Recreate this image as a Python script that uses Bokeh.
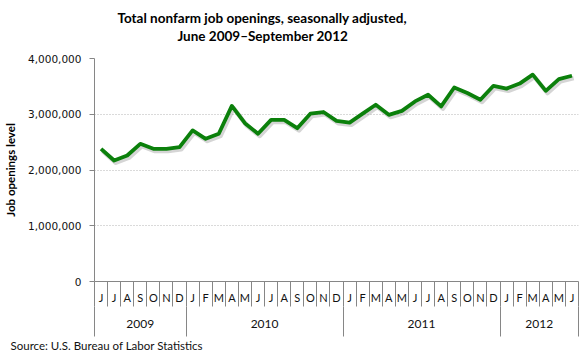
from bokeh.plotting import figure
from bokeh.models import (Range1d, LinearAxis, FixedTicker, NumeralTickFormatter,
                          Title, CustomJSTickFormatter)
from bokeh.embed import file_html
from bokeh.resources import INLINE

# ---- data ----
years = ["2009", "2010", "2011", "2012"]
months_2009 = ["J", "J", "A", "S", "O", "N", "D"]
months_2010 = ["J", "F", "M", "A", "M", "J", "J", "A", "S", "O", "N", "D"]
months_2011 = ["J", "F", "M", "A", "M", "J", "J", "A", "S", "O", "N", "D"]
months_2012 = ["J", "F", "M", "A", "M", "J"]

openings_2009 = [2380000, 2170000, 2260000, 2470000, 2380000, 2380000, 2410000]
openings_2010 = [2710000, 2560000, 2650000, 3150000, 2840000, 2650000,
                 2900000, 2900000, 2750000, 3010000, 3040000, 2880000]
openings_2011 = [2850000, 3010000, 3170000, 2990000, 3060000, 3230000,
                 3350000, 3140000, 3480000, 3380000, 3260000, 3510000]
openings_2012 = [3460000, 3550000, 3710000, 3420000, 3630000, 3690000]

y_ticks = [0, 1000000, 2000000, 3000000, 4000000]

# ---- derived ----
month_groups = [months_2009, months_2010, months_2011, months_2012]
month_labels = [m for g in month_groups for m in g]
values = openings_2009 + openings_2010 + openings_2011 + openings_2012
n = len(month_labels)
xs = [i + 0.5 for i in range(n)]
bounds = [0]
for g in month_groups:
    bounds.append(bounds[-1] + len(g))
year_centers = [(bounds[k] + bounds[k + 1]) / 2 for k in range(len(years))]

AXIS_GRAY = "#868686"
BODY_FONT = "Lato"

p = figure(width=580, height=360, output_backend="svg", toolbar_location=None,
           x_range=Range1d(0, n), y_range=Range1d(0, 4000000),
           min_border_left=94, min_border_right=2, min_border_top=58,
           min_border_bottom=79)
p.outline_line_color = None
p.background_fill_color = "white"
p.border_fill_color = "white"
p.xgrid.visible = False
p.ygrid.ticker = FixedTicker(ticks=y_ticks[1:])
p.ygrid.grid_line_color = "#b4b4b4"
p.ygrid.grid_line_dash = "1 2"
p.ygrid.grid_line_width = 1

# y axis
ya = p.yaxis[0]
ya.ticker = FixedTicker(ticks=y_ticks)
ya.formatter = NumeralTickFormatter(format="0,0")
ya.axis_line_color = AXIS_GRAY
ya.major_tick_line_color = AXIS_GRAY
ya.major_tick_out = 5
ya.major_tick_in = 0
ya.minor_tick_line_color = None
ya.major_label_text_font = "DejaVu Sans"
ya.major_label_text_font_size = "10.5px"
ya.major_label_text_color = "#111111"
ya.major_label_standoff = 8
ya.axis_label = "Job openings level"
ya.axis_label_text_font = BODY_FONT
ya.axis_label_text_font_style = "bold"
ya.axis_label_text_font_size = "11.5px"
ya.axis_label_text_color = "#000000"
ya.axis_label_standoff = 8

# x axis: month letters + month separators (minor ticks)
xa = p.xaxis[0]
xa.ticker = FixedTicker(ticks=xs, minor_ticks=list(range(n + 1)))
xa.formatter = CustomJSTickFormatter(args=dict(labels=month_labels),
                                     code="const i = Math.floor(tick); return (i >= 0 && i < labels.length) ? labels[i] : '';")
xa.axis_line_color = AXIS_GRAY
xa.major_tick_out = 0
xa.major_tick_in = 0
xa.minor_tick_in = 0
xa.minor_tick_out = 25
xa.minor_tick_line_color = AXIS_GRAY
xa.major_label_text_font = BODY_FONT
xa.major_label_text_font_size = "11px"
xa.major_label_text_color = "#111111"
xa.major_label_standoff = -16

# second x axis: years + year separators
xa2 = LinearAxis(ticker=FixedTicker(ticks=year_centers, minor_ticks=bounds),
                 formatter=CustomJSTickFormatter(args=dict(centers=year_centers, names=years),
                                                 code="const i = centers.indexOf(tick); return i >= 0 ? names[i] : '';"))
xa2.axis_line_color = None
xa2.major_tick_out = 0
xa2.major_tick_in = 0
xa2.minor_tick_in = 0
xa2.minor_tick_out = 30
xa2.minor_tick_line_color = AXIS_GRAY
xa2.major_label_text_font = BODY_FONT
xa2.major_label_text_font_size = "12px"
xa2.major_label_text_color = "#111111"
xa2.major_label_standoff = -17
p.add_layout(xa2, "below")

# line with soft shadow
p.line([x + 0.13 for x in xs], [v - 40000 for v in values], line_color="#888888",
       line_alpha=0.35, line_width=4.5, line_join="round")
p.line(xs, values, line_color="#0b800b", line_width=3.8, line_join="round")

# titles (stacked above the plot: spacer nearest the frame, then line 2, then line 1)
spacer = Title(text=" ", text_font_size="1px", standoff=12)
t2 = Title(text="June 2009\u2013September 2012", align="left", offset=83,
           text_font=BODY_FONT, text_font_style="bold", text_font_size="13.5px",
           text_color="#000000", standoff=0)
t1 = Title(text="Total nonfarm job openings, seasonally adjusted,", align="left", offset=23,
           text_font=BODY_FONT, text_font_style="bold", text_font_size="13.5px",
           text_color="#000000", standoff=0)
p.add_layout(spacer, "above")
p.add_layout(t2, "above")
p.add_layout(t1, "above")
src = Title(text="Source:  U.S. Bureau of Labor Statistics", align="left", offset=-84,
            text_font=BODY_FONT, text_font_style="normal", text_font_size="11.5px",
            text_color="#111111", standoff=13)
p.add_layout(src, "below")

open("out.html", "w").write(file_html(p, INLINE))
